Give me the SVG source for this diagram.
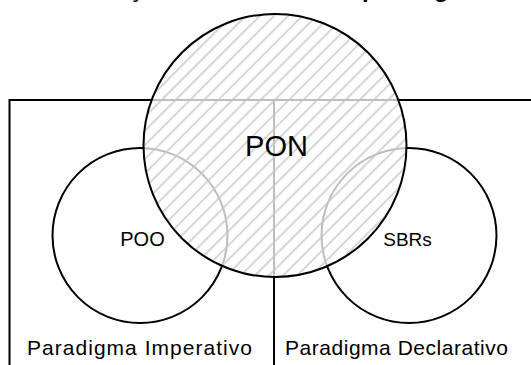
<svg xmlns="http://www.w3.org/2000/svg" width="531" height="365" viewBox="0 0 531 365">
  <defs>
    <!-- diagonal hatch used for the PON set -->
    <pattern id="hatch" patternUnits="userSpaceOnUse" width="10" height="10" patternTransform="rotate(45)">
      <line x1="5" y1="0" x2="5" y2="10" stroke="#c4c4c4" stroke-width="1.4"/>
    </pattern>
  </defs>
  <style>
    .ln { fill: none; stroke: #000; stroke-width: 2; }
    .txt { font-family: "Liberation Sans", Arial, sans-serif; fill: #000; }
    .title { font-family: "Liberation Sans", Arial, sans-serif; font-weight: bold; font-size: 24px; fill: #000; }
  </style>
  <rect width="531" height="365" fill="#fff"/>

  <!-- title, mostly above the visible area -->
  <text class="title" x="78" y="-3">Relação do PON com os paradigmas</text>

  <!-- paradigm frame: outer border and divider -->
  <g id="connectors">
    <path class="ln" d="M9.5 366 V100 H532"/>
    <path class="ln" d="M274 100 V366"/>
  </g>

  <g id="imperativo">
    <text class="txt" x="27" y="355" font-size="21" textLength="225" lengthAdjust="spacing">Paradigma Imperativo</text>
  </g>
  <g id="declarativo">
    <text class="txt" x="285" y="355" font-size="21" textLength="223" lengthAdjust="spacing">Paradigma Declarativo</text>
  </g>

  <g id="poo">
    <circle class="ln" cx="140" cy="235.5" r="87.5"/>
    <text class="txt" x="142.5" y="245.5" font-size="20" text-anchor="middle">POO</text>
  </g>

  <g id="sbrs">
    <circle class="ln" cx="409" cy="235.5" r="87.5"/>
    <text class="txt" x="407.5" y="246" font-size="19" text-anchor="middle">SBRs</text>
  </g>

  <g id="pon">
    <circle cx="275" cy="145.5" r="131.5" fill="#fff" fill-opacity="0.74"/>
    <circle cx="275" cy="145.5" r="131.5" fill="url(#hatch)"/>
    <circle class="ln" cx="275" cy="145.5" r="131.5"/>
    <text class="txt" x="276.5" y="156" font-size="29" text-anchor="middle">PON</text>
  </g>
</svg>
